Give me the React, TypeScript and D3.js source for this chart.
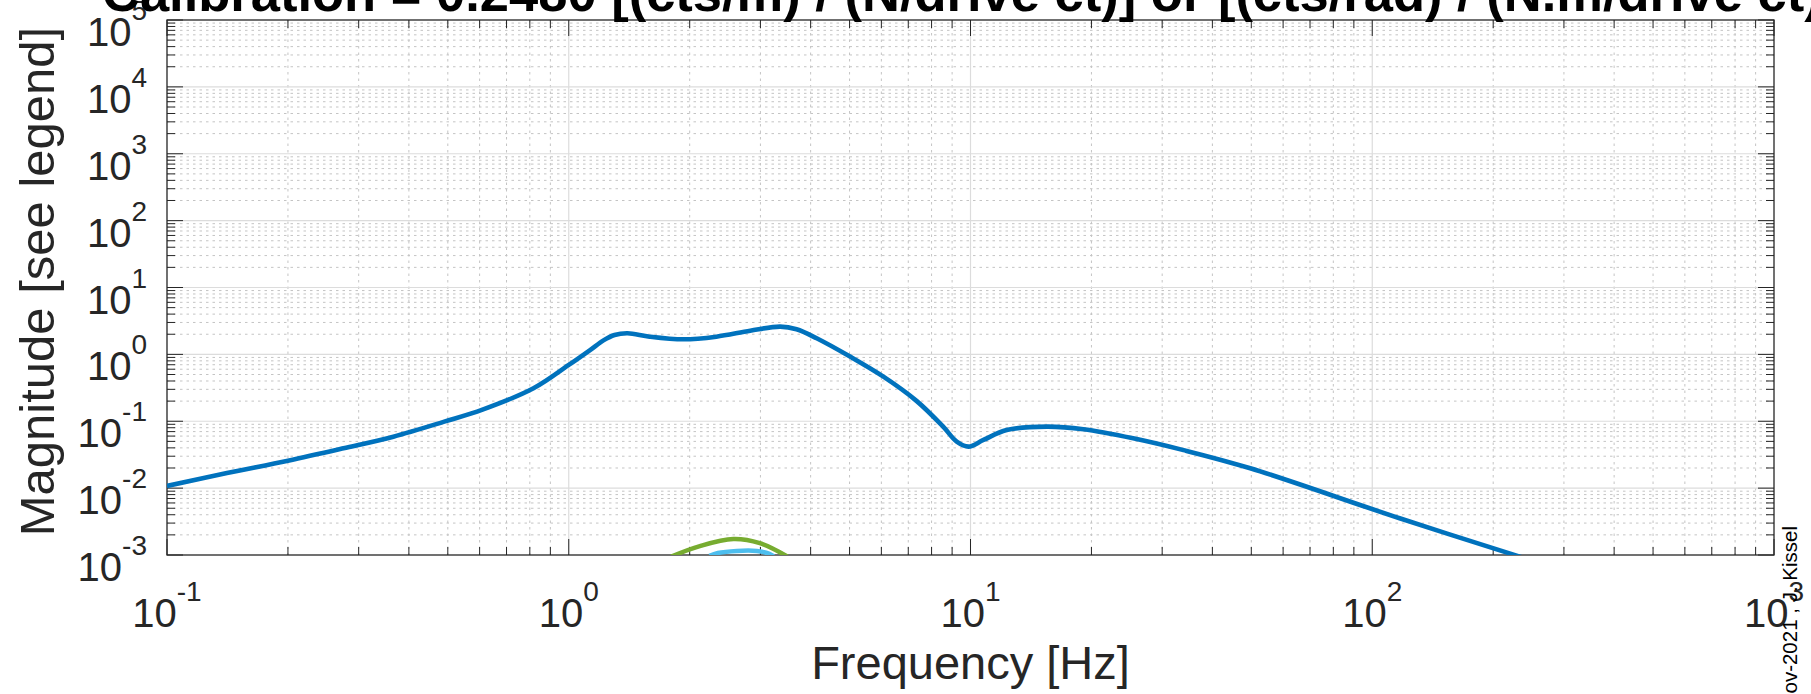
import React, { useEffect, useRef } from "react";
import * as d3 from "d3";

// main transfer function (blue)
const freqMain = [
  0.1, 0.141, 0.2, 0.275, 0.366, 0.49, 0.61, 0.817, 1.0, 1.13, 1.22, 1.3, 1.4,
  1.59, 1.93, 2.33, 2.83, 3.36, 3.69, 4.14, 5.0, 6.07, 7.35, 8.55, 9.24, 9.89,
  10.77, 12.3, 15.5, 19.1, 25.4, 33.9, 49.7, 117, 235,
];
const magMain = [
  0.0108, 0.0168, 0.0257, 0.0394, 0.0588, 0.0986, 0.149, 0.311, 0.695, 1.16,
  1.62, 1.95, 2.07, 1.84, 1.68, 1.84, 2.26, 2.6, 2.37, 1.74, 0.935, 0.464, 0.2,
  0.083, 0.0495, 0.0417, 0.0525, 0.074, 0.083, 0.076, 0.0556, 0.037, 0.0198,
  0.00354, 0.00093,
];

// green arch, mostly below the axis floor
const freqGreen = [1.8, 2.12, 2.57, 2.99, 3.5];
const magGreen = [0.00095, 0.00136, 0.00173, 0.0015, 0.00095];

// light blue arch
const freqCyan = [2.24, 2.35, 2.62, 2.94, 3.1, 3.24];
const magCyan = [0.00097, 0.00107, 0.00115, 0.00115, 0.00108, 0.00096];

const xDecades = [-1, 0, 1, 2, 3];
const yDecades = [-3, -2, -1, 0, 1, 2, 3, 4, 5];

const titleText =
  "Calibration = 0.2480 [(cts/m) / (N/drive ct)] or [(cts/rad) / (N.m/drive ct)]";
const xLabelText = "Frequency [Hz]";
const yLabelText = "Magnitude [see legend]";
const stampText = "Nov-2021 , J. Kissel";

const FONT = "'Liberation Sans', Arial, Helvetica, sans-serif";
const INK = "#262626";

function minorValues(lo: number, hi: number) {
  const out: number[] = [];
  for (let k = lo; k < hi; k++) {
    for (let m = 2; m <= 9; m++) out.push(m * Math.pow(10, k));
  }
  return out;
}

export default function App() {
  const svgRef = useRef<SVGSVGElement>(null);

  useEffect(() => {
    const width = 1811;
    const height = 694;
    const margin = { top: 20, right: 37, bottom: 139, left: 167 };
    const x0 = margin.left;
    const x1 = width - margin.right;
    const y0 = margin.top;
    const y1 = height - margin.bottom;

    const svg = d3.select(svgRef.current);
    svg.selectAll("*").remove();
    svg.attr("width", width).attr("height", height);

    const xScale = d3.scaleLog().domain([0.1, 1000]).range([x0, x1]);
    const yScale = d3.scaleLog().domain([1e-3, 1e5]).range([y1, y0]);

    svg
      .append("rect")
      .attr("width", width)
      .attr("height", height)
      .attr("fill", "#ffffff");

    svg
      .append("defs")
      .append("clipPath")
      .attr("id", "plotClip")
      .append("rect")
      .attr("x", x0)
      .attr("y", y0)
      .attr("width", x1 - x0)
      .attr("height", y1 - y0);

    const xMinor = minorValues(-1, 3);
    const yMinor = minorValues(-3, 5);
    const xMajor = xDecades.map((d) => Math.pow(10, d));
    const yMajor = yDecades.map((d) => Math.pow(10, d));

    // minor grid, dotted
    const grid = svg.append("g");
    grid
      .selectAll("line.xm")
      .data(xMinor)
      .join("line")
      .attr("x1", (d) => xScale(d))
      .attr("x2", (d) => xScale(d))
      .attr("y1", y0)
      .attr("y2", y1)
      .attr("stroke", "#c4c4c4")
      .attr("stroke-width", 1)
      .attr("stroke-dasharray", "2.5,4");
    grid
      .selectAll("line.ym")
      .data(yMinor)
      .join("line")
      .attr("x1", x0)
      .attr("x2", x1)
      .attr("y1", (d) => yScale(d))
      .attr("y2", (d) => yScale(d))
      .attr("stroke", "#c4c4c4")
      .attr("stroke-width", 1)
      .attr("stroke-dasharray", "2.5,4");

    // major grid, solid
    grid
      .append("g")
      .selectAll("line")
      .data(xMajor.slice(1, -1))
      .join("line")
      .attr("x1", (d) => xScale(d))
      .attr("x2", (d) => xScale(d))
      .attr("y1", y0)
      .attr("y2", y1)
      .attr("stroke", "#dcdcdc")
      .attr("stroke-width", 1.2);
    grid
      .append("g")
      .selectAll("line")
      .data(yMajor.slice(1, -1))
      .join("line")
      .attr("x1", x0)
      .attr("x2", x1)
      .attr("y1", (d) => yScale(d))
      .attr("y2", (d) => yScale(d))
      .attr("stroke", "#dcdcdc")
      .attr("stroke-width", 1.2);

    // ticks (inward) on all four sides
    const ticks = svg.append("g").attr("stroke", INK).attr("stroke-width", 1);
    const majorLen = 16;
    const minorLen = 8;
    [...xMajor.map((v) => [v, majorLen]), ...xMinor.map((v) => [v, minorLen])].forEach(
      ([v, len]) => {
        const px = xScale(v);
        ticks.append("line").attr("x1", px).attr("x2", px).attr("y1", y1).attr("y2", y1 - len);
        ticks.append("line").attr("x1", px).attr("x2", px).attr("y1", y0).attr("y2", y0 + len);
      }
    );
    [...yMajor.map((v) => [v, majorLen]), ...yMinor.map((v) => [v, minorLen])].forEach(
      ([v, len]) => {
        const py = yScale(v);
        ticks.append("line").attr("x1", x0).attr("x2", x0 + len).attr("y1", py).attr("y2", py);
        ticks.append("line").attr("x1", x1).attr("x2", x1 - len).attr("y1", py).attr("y2", py);
      }
    );

    // box
    svg
      .append("rect")
      .attr("x", x0)
      .attr("y", y0)
      .attr("width", x1 - x0)
      .attr("height", y1 - y0)
      .attr("fill", "none")
      .attr("stroke", INK)
      .attr("stroke-width", 1.3);

    // curves
    const line = d3
      .line<[number, number]>()
      .x((d) => xScale(d[0]))
      .y((d) => yScale(d[1]))
      .curve(d3.curveCatmullRom.alpha(0.5));

    const plot = svg.append("g").attr("clip-path", "url(#plotClip)");
    const series = [
      { f: freqMain, m: magMain, color: "#0072BD", w: 4.6 },
      { f: freqGreen, m: magGreen, color: "#77AC30", w: 4.5 },
      { f: freqCyan, m: magCyan, color: "#4DBEEE", w: 4.5 },
    ];
    series.forEach((s) => {
      plot
        .append("path")
        .datum(s.f.map((f, i) => [f, s.m[i]] as [number, number]))
        .attr("fill", "none")
        .attr("stroke", s.color)
        .attr("stroke-width", s.w)
        .attr("stroke-linejoin", "round")
        .attr("d", line);
    });

    // tick labels with superscript exponent
    const powLabel = (
      g: d3.Selection<SVGGElement, unknown, null, undefined>,
      x: number,
      y: number,
      anchor: string,
      exp: number
    ) => {
      const t = g
        .append("text")
        .attr("x", x)
        .attr("y", y)
        .attr("text-anchor", anchor)
        .attr("font-size", 40);
      t.append("tspan").text("10");
      t.append("tspan").attr("dy", -26).attr("font-size", 28).text(String(exp));
    };

    const xl = svg.append("g").attr("font-family", FONT).attr("fill", INK);
    xDecades.forEach((d) => powLabel(xl, xScale(Math.pow(10, d)), 627, "middle", d));

    const yl = svg.append("g").attr("font-family", FONT).attr("fill", INK);
    yDecades.forEach((d) => powLabel(yl, 147, yScale(Math.pow(10, d)) + 26, "end", d));

    // axis labels
    svg
      .append("text")
      .attr("x", (x0 + x1) / 2)
      .attr("y", 679)
      .attr("text-anchor", "middle")
      .attr("font-family", FONT)
      .attr("font-size", 47)
      .attr("fill", INK)
      .text(xLabelText);

    svg
      .append("text")
      .attr("transform", `translate(54,${(y0 + y1) / 2 - 6}) rotate(-90)`)
      .attr("text-anchor", "middle")
      .attr("font-family", FONT)
      .attr("font-size", 49)
      .attr("fill", INK)
      .text(yLabelText);

    // title, cut off by the top edge
    svg
      .append("text")
      .attr("x", 102)
      .attr("y", 11)
      .attr("font-family", FONT)
      .attr("font-size", 52.5)
      .attr("font-weight", "bold")
      .attr("fill", "#000000")
      .text(titleText);

    // stamp at the right edge
    svg
      .append("text")
      .attr("transform", `translate(1797,526) rotate(-90)`)
      .attr("text-anchor", "end")
      .attr("font-family", FONT)
      .attr("font-size", 20.5)
      .attr("fill", "#000000")
      .text(stampText);
  }, []);

  return (
    <div style={{ position: "fixed", left: 0, top: 0, width: 1811, height: 694, overflow: "hidden" }}>
      <svg ref={svgRef} width={1811} height={694} style={{ display: "block" }} />
    </div>
  );
}
